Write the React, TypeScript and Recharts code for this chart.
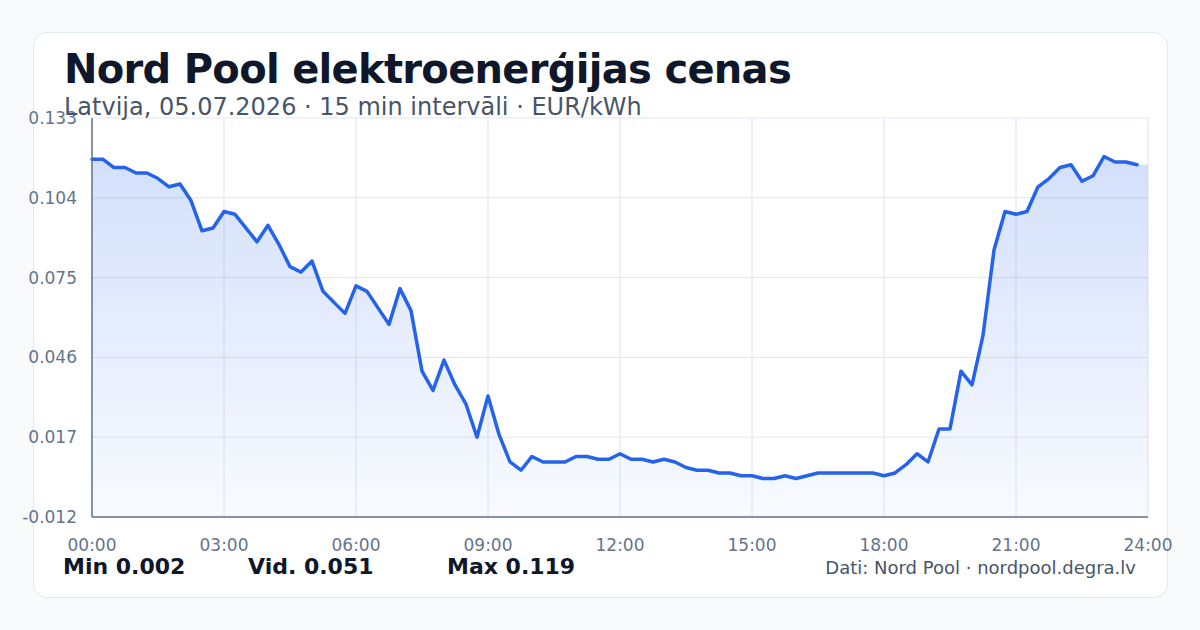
import React from "react";
import {
  ComposedChart,
  Area,
  Line,
  XAxis,
  YAxis,
  CartesianGrid,
} from "recharts";

// Quarter-hour prices (EUR/kWh), 00:00 .. 23:45
const prices: number[] = [
  0.118, 0.118, 0.115, 0.115, 0.113, 0.113, 0.111, 0.108, 0.109, 0.103,
  0.092, 0.093, 0.099, 0.098, 0.093, 0.088, 0.094, 0.087, 0.079, 0.077,
  0.081, 0.07, 0.066, 0.062, 0.072, 0.07, 0.064, 0.058, 0.071, 0.063,
  0.041, 0.034, 0.045, 0.036, 0.029, 0.017, 0.032, 0.018, 0.008, 0.005,
  0.01, 0.008, 0.008, 0.008, 0.01, 0.01, 0.009, 0.009, 0.011, 0.009,
  0.009, 0.008, 0.009, 0.008, 0.006, 0.005, 0.005, 0.004, 0.004, 0.003,
  0.003, 0.002, 0.002, 0.003, 0.002, 0.003, 0.004, 0.004, 0.004, 0.004,
  0.004, 0.004, 0.003, 0.004, 0.007, 0.011, 0.008, 0.02, 0.02, 0.041,
  0.036, 0.054, 0.085, 0.099, 0.098, 0.099, 0.108, 0.111, 0.115, 0.116,
  0.11, 0.112, 0.119, 0.117, 0.117, 0.116,
];

const xTickSlots: number[] = [0, 12, 24, 36, 48, 60, 72, 84, 96];
const xTickLabels: string[] = [
  "00:00", "03:00", "06:00", "09:00", "12:00", "15:00", "18:00", "21:00", "24:00",
];
const yTicks: number[] = [-0.012, 0.017, 0.046, 0.075, 0.104, 0.133];

const statLabels: string[] = ["Min 0.002", "Vid. 0.051", "Max 0.119"];
const statLefts: number[] = [63, 248, 447];

const title = "Nord Pool elektroenerģijas cenas";
const subtitle = "Latvija, 05.07.2026 · 15 min intervāli · EUR/kWh";
const source = "Dati: Nord Pool · nordpool.degra.lv";

// Area extends to 24:00 with the last value; the line stops at 23:45
const data = [
  ...prices.map((p, i) => ({ slot: i, price: p, area: p })),
  { slot: prices.length, price: null as number | null, area: prices[prices.length - 1] },
];

const FONT = '"DejaVu Sans", sans-serif';

export default function App() {
  return (
    <div
      style={{
        position: "fixed",
        left: 0,
        top: 0,
        width: 1200,
        height: 630,
        background: "#f8fafc",
        fontFamily: FONT,
        overflow: "hidden",
      }}
    >
      <div
        style={{
          position: "absolute",
          left: 33,
          top: 32,
          width: 1135,
          height: 566,
          background: "#ffffff",
          border: "1px solid #e2e8f0",
          borderRadius: 14,
          boxSizing: "border-box",
        }}
      />
      <div style={{ position: "absolute", left: 0, top: 0 }}>
        <ComposedChart
          width={1200}
          height={630}
          data={data}
          margin={{ top: 118, right: 52, bottom: 0, left: 0 }}
        >
          <defs>
            <linearGradient id="fillGrad" x1="0" y1="0" x2="0" y2="1">
              <stop offset="0%" stopColor="#2563eb" stopOpacity={0.2} />
              <stop offset="100%" stopColor="#2563eb" stopOpacity={0.03} />
            </linearGradient>
          </defs>
          <CartesianGrid stroke="#dfe6f1" strokeWidth={1} />
          <XAxis
            dataKey="slot"
            type="number"
            domain={[0, 96]}
            ticks={xTickSlots}
            tickFormatter={(v: number) => xTickLabels[xTickSlots.indexOf(v)] ?? ""}
            height={113}
            tickLine={false}
            tickMargin={16}
            axisLine={{ stroke: "#64748b", strokeWidth: 1.5 }}
            tick={{ fill: "#64748b", fontSize: 17, fontFamily: FONT }}
            interval={0}
          />
          <YAxis
            type="number"
            domain={[-0.012, 0.133]}
            ticks={yTicks}
            allowDataOverflow
            width={92}
            tickLine={false}
            tickMargin={9}
            axisLine={{ stroke: "#64748b", strokeWidth: 1.5 }}
            tick={{ fill: "#64748b", fontSize: 17, fontFamily: FONT }}
            tickFormatter={(v: number) => v.toFixed(3)}
            interval={0}
          />
          <Area
            type="linear"
            dataKey="area"
            stroke="none"
            fill="url(#fillGrad)"
            fillOpacity={1}
            isAnimationActive={false}
            dot={false}
            activeDot={false}
            baseValue={-0.012}
          />
          <Line
            type="linear"
            dataKey="price"
            stroke="#2563eb"
            strokeWidth={3.5}
            dot={false}
            activeDot={false}
            strokeLinejoin="round"
            strokeLinecap="round"
            isAnimationActive={false}
            connectNulls={false}
          />
        </ComposedChart>
      </div>
      <div
        style={{
          position: "absolute",
          left: 64,
          top: 49,
          fontSize: 40,
          lineHeight: "40px",
          fontWeight: 700,
          letterSpacing: "-0.7px",
          color: "#0f172a",
          whiteSpace: "nowrap",
        }}
      >
        {title}
      </div>
      <div
        style={{
          position: "absolute",
          left: 64,
          top: 95,
          fontSize: 24,
          lineHeight: "24px",
          color: "#475569",
          whiteSpace: "nowrap",
        }}
      >
        {subtitle}
      </div>
      {statLabels.map((s, i) => (
        <div
          key={s}
          style={{
            position: "absolute",
            left: statLefts[i],
            top: 556,
            fontSize: 22,
            lineHeight: "22px",
            fontWeight: 700,
            color: "#0f172a",
            whiteSpace: "nowrap",
          }}
        >
          {s}
        </div>
      ))}
      <div
        style={{
          position: "absolute",
          right: 64,
          top: 559,
          fontSize: 18,
          lineHeight: "18px",
          color: "#475569",
          whiteSpace: "nowrap",
        }}
      >
        {source}
      </div>
    </div>
  );
}
